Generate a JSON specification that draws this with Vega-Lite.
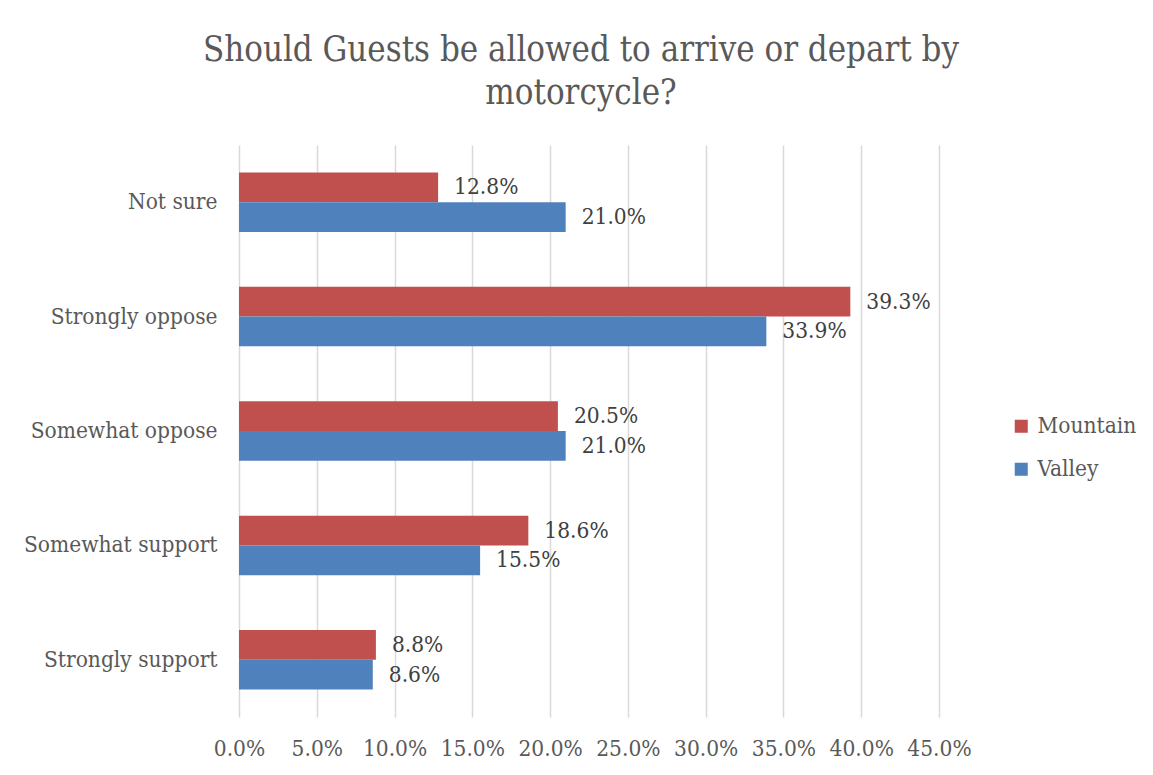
{
  "$schema": "https://vega.github.io/schema/vega-lite/v6.json",
  "width": 700,
  "height": 572,
  "autosize": "none",
  "padding": {"left": 239, "top": 145, "right": 214, "bottom": 58},
  "background": "white",
  "title": {
    "text": ["Should Guests be allowed to arrive or depart by", "motorcycle?"],
    "font": "DejaVu Serif Condensed, Liberation Serif",
    "fontSize": 34.5,
    "fontWeight": "normal",
    "color": "#595959",
    "anchor": "middle",
    "lineHeight": 43,
    "offset": 34,
    "dx": -8
  },
  "data": {
    "values": [
      {"category": "Not sure", "series": "Mountain", "value": 0.128},
      {"category": "Not sure", "series": "Valley", "value": 0.210},
      {"category": "Strongly oppose", "series": "Mountain", "value": 0.393},
      {"category": "Strongly oppose", "series": "Valley", "value": 0.339},
      {"category": "Somewhat oppose", "series": "Mountain", "value": 0.205},
      {"category": "Somewhat oppose", "series": "Valley", "value": 0.210},
      {"category": "Somewhat support", "series": "Mountain", "value": 0.186},
      {"category": "Somewhat support", "series": "Valley", "value": 0.155},
      {"category": "Strongly support", "series": "Mountain", "value": 0.088},
      {"category": "Strongly support", "series": "Valley", "value": 0.086}
    ]
  },
  "encoding": {
    "y": {
      "field": "category",
      "type": "nominal",
      "sort": ["Not sure", "Strongly oppose", "Somewhat oppose", "Somewhat support", "Strongly support"],
      "scale": {"paddingInner": 0.48, "paddingOuter": 0.24},
      "axis": {
        "title": null,
        "domain": false,
        "ticks": false,
        "labelLimit": 400,
        "labelFont": "DejaVu Serif Condensed, Liberation Serif",
        "labelFontSize": 22.5,
        "labelColor": "#595959",
        "labelPadding": 22
      }
    },
    "yOffset": {
      "field": "series",
      "type": "nominal",
      "sort": ["Mountain", "Valley"]
    },
    "x": {
      "field": "value",
      "type": "quantitative",
      "scale": {"domain": [0, 0.45], "nice": false},
      "axis": {
        "title": null,
        "format": ".1%",
        "values": [0, 0.05, 0.1, 0.15, 0.2, 0.25, 0.3, 0.35, 0.4, 0.45],
        "domain": false,
        "ticks": false,
        "grid": true,
        "gridColor": "#d9d9d9",
        "gridWidth": 1.5,
        "labelFlush": false,
        "labelFont": "DejaVu Serif Condensed, Liberation Serif",
        "labelFontSize": 22.5,
        "labelColor": "#595959",
        "labelPadding": 20
      }
    }
  },
  "layer": [
    {
      "mark": {"type": "bar"},
      "encoding": {
        "color": {
          "field": "series",
          "type": "nominal",
          "scale": {"domain": ["Mountain", "Valley"], "range": ["#C0504D", "#4F81BD"]},
          "legend": {
            "title": null,
            "orient": "none",
            "legendX": 771,
            "legendY": 270,
            "symbolType": "square",
            "symbolSize": 170,
            "symbolStrokeWidth": 0,
            "labelFont": "DejaVu Serif Condensed, Liberation Serif",
            "labelFontSize": 22.5,
            "labelColor": "#595959",
            "rowPadding": 20,
            "labelOffset": 5
          }
        }
      }
    },
    {
      "mark": {
        "type": "text",
        "align": "left",
        "baseline": "middle",
        "dx": 16,
        "font": "DejaVu Serif Condensed, Liberation Serif",
        "fontSize": 22.5,
        "color": "#404040"
      },
      "encoding": {
        "text": {"field": "value", "type": "quantitative", "format": ".1%"}
      }
    }
  ],
  "config": {
    "view": {"stroke": null}
  }
}
